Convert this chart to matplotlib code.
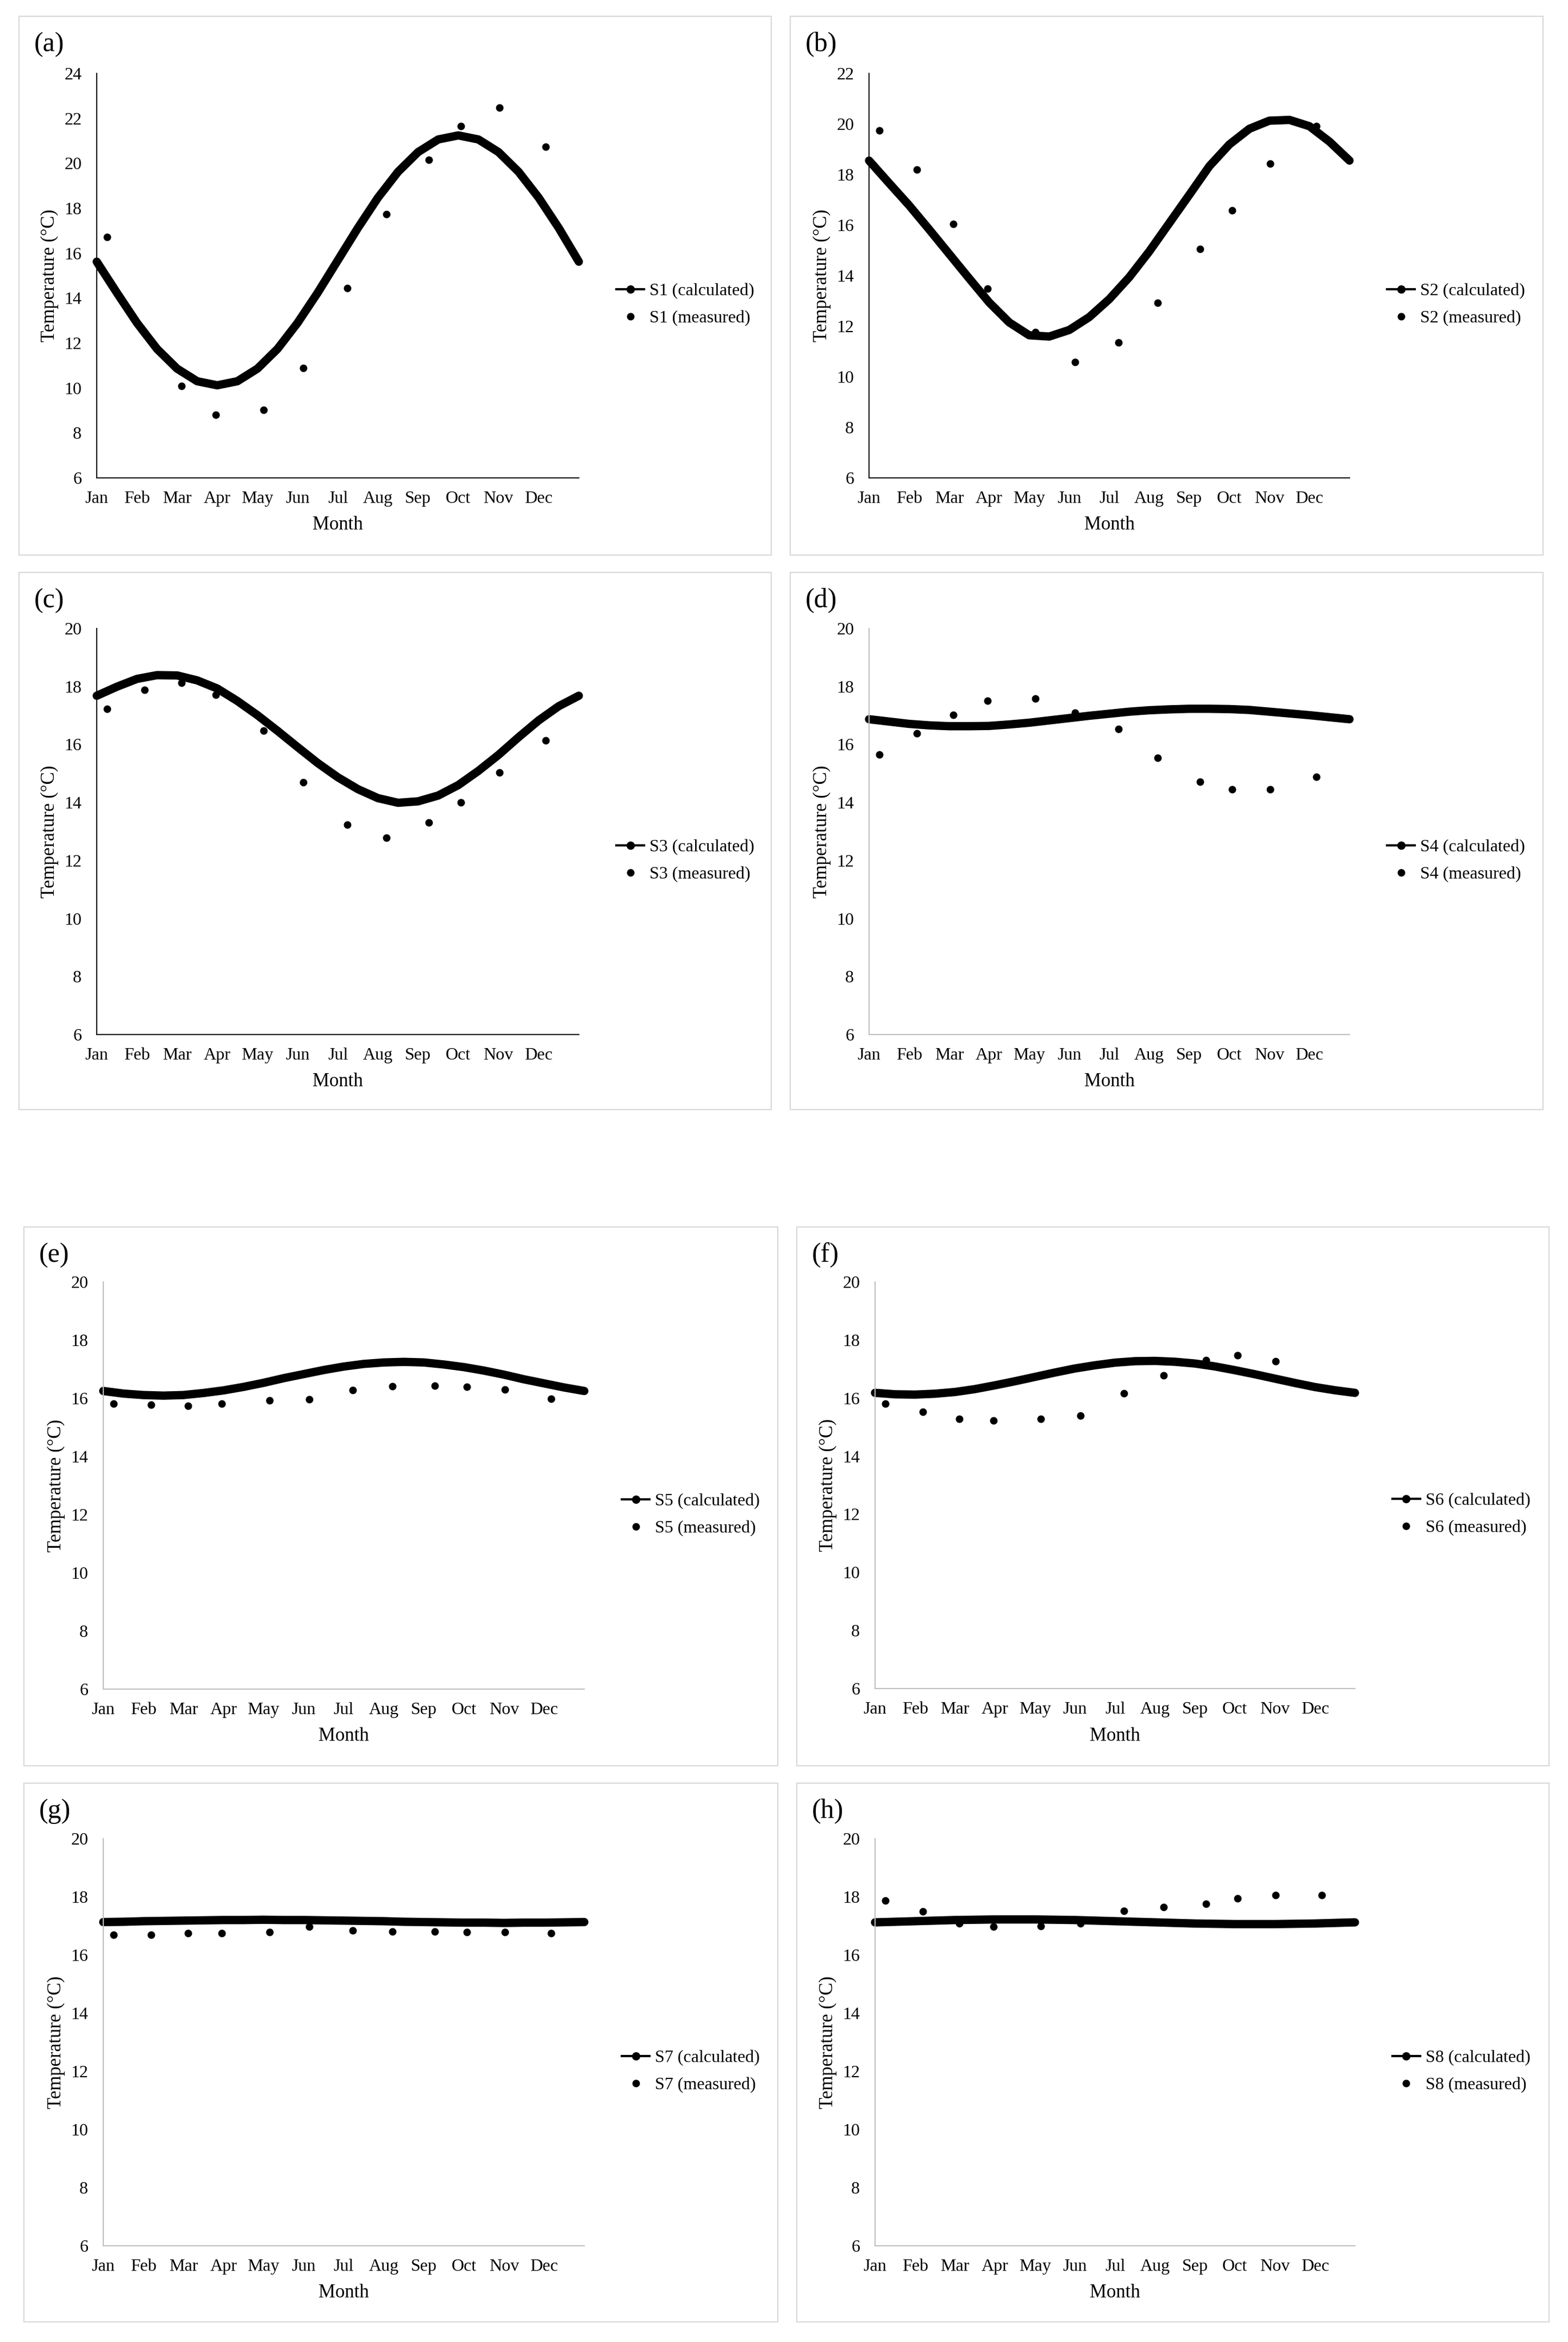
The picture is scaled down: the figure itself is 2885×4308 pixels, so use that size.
import matplotlib
matplotlib.use('Agg')
import matplotlib.pyplot as plt
from matplotlib.lines import Line2D
from matplotlib.patches import Rectangle

# ---------------- data ----------------
months = ['Jan', 'Feb', 'Mar', 'Apr', 'May', 'Jun', 'Jul', 'Aug', 'Sep', 'Oct', 'Nov', 'Dec']
month_pos = [0, 1, 2, 3, 4, 5, 6, 7, 8, 9, 10, 11]

# time axis (in months from 1 Jan) of the calculated curves and of the measurements
calc_x = [0.0, 0.5, 1.0, 1.5, 2.0, 2.5, 3.0, 3.5, 4.0, 4.5, 5.0, 5.5, 6.0,
          6.5, 7.0, 7.5, 8.0, 8.5, 9.0, 9.5, 10.0, 10.5, 11.0, 11.5, 12.0]
meas_x = [0.26, 1.19, 2.11, 2.96, 4.15, 5.14, 6.23, 7.21, 8.27, 9.07, 10.02, 11.17]

s1_calc = [15.62, 14.24, 12.90, 11.74, 10.86, 10.30, 10.12, 10.30, 10.86, 11.74, 12.90, 14.24, 15.68,
           17.12, 18.47, 19.62, 20.50, 21.06, 21.24, 21.06, 20.50, 19.62, 18.47, 17.12, 15.62]
s1_meas = [16.72, 12.45, 10.08, 8.80, 9.03, 10.88, 14.45, 17.74, 20.15, 21.66, 22.47, 20.74]

s2_calc = [18.55, 17.66, 16.78, 15.83, 14.86, 13.89, 12.94, 12.15, 11.64, 11.59, 11.85, 12.36, 13.07,
           13.94, 14.96, 16.08, 17.20, 18.33, 19.19, 19.81, 20.13, 20.16, 19.91, 19.30, 18.55]
s2_meas = [19.75, 18.19, 16.04, 13.48, 11.76, 10.59, 11.36, 12.92, 15.05, 16.58, 18.44, 19.92]

s3_calc = [17.68, 17.99, 18.26, 18.39, 18.38, 18.21, 17.93, 17.50, 17.01, 16.47, 15.91, 15.36, 14.87,
           14.46, 14.15, 13.99, 14.04, 14.24, 14.60, 15.09, 15.64, 16.25, 16.83, 17.32, 17.68]
s3_meas = [17.23, 17.88, 18.13, 17.72, 16.47, 14.69, 13.23, 12.79, 13.30, 14.00, 15.04, 16.14]

s4_calc = [16.87, 16.79, 16.71, 16.66, 16.63, 16.63, 16.64, 16.69, 16.75, 16.83, 16.91, 16.99, 17.06,
           17.13, 17.18, 17.21, 17.23, 17.23, 17.22, 17.19, 17.13, 17.07, 17.01, 16.94, 16.87]
s4_meas = [15.65, 16.39, 17.02, 17.51, 17.59, 17.10, 16.54, 15.54, 14.71, 14.46, 14.45, 14.88]

s5_calc = [16.25, 16.16, 16.11, 16.09, 16.11, 16.18, 16.27, 16.39, 16.53, 16.69, 16.83, 16.97, 17.09,
           17.18, 17.23, 17.25, 17.23, 17.16, 17.07, 16.95, 16.81, 16.65, 16.51, 16.37, 16.25]
s5_meas = [15.82, 15.78, 15.74, 15.82, 15.93, 15.97, 16.28, 16.42, 16.43, 16.40, 16.29, 15.99]

s6_calc = [16.18, 16.13, 16.12, 16.15, 16.21, 16.31, 16.44, 16.58, 16.73, 16.88, 17.02, 17.13, 17.22,
           17.27, 17.28, 17.25, 17.19, 17.09, 16.96, 16.82, 16.67, 16.52, 16.38, 16.27, 16.18]
s6_meas = [15.80, 15.53, 15.28, 15.23, 15.28, 15.40, 16.16, 16.78, 17.30, 17.48, 17.27, 16.35]

s7_calc = [17.13, 17.14, 17.16, 17.17, 17.18, 17.19, 17.20, 17.20, 17.21, 17.20, 17.20, 17.19, 17.18,
           17.17, 17.16, 17.14, 17.13, 17.12, 17.11, 17.11, 17.10, 17.11, 17.11, 17.12, 17.13]
s7_meas = [16.70, 16.69, 16.74, 16.74, 16.79, 16.98, 16.84, 16.81, 16.81, 16.79, 16.79, 16.75]

s8_calc = [17.12, 17.14, 17.16, 17.18, 17.20, 17.21, 17.22, 17.22, 17.22, 17.21, 17.20, 17.18, 17.16,
           17.14, 17.12, 17.10, 17.08, 17.07, 17.06, 17.06, 17.06, 17.07, 17.08, 17.10, 17.12]
s8_meas = [17.87, 17.50, 17.08, 16.97, 17.00, 17.08, 17.52, 17.65, 17.76, 17.95, 18.05, 18.06]

series_names = ['S1', 'S2', 'S3', 'S4', 'S5', 'S6', 'S7', 'S8']
panel_tags = ['(a)', '(b)', '(c)', '(d)', '(e)', '(f)', '(g)', '(h)']
y_max = [24, 22, 20, 20, 20, 20, 20, 20]
calc_series = [s1_calc, s2_calc, s3_calc, s4_calc, s5_calc, s6_calc, s7_calc, s8_calc]
meas_series = [s1_meas, s2_meas, s3_meas, s4_meas, s5_meas, s6_meas, s7_meas, s8_meas]

# ---------------- layout (pixels) ----------------
W, H = 2885, 4308
frames = [(35, 30, 1419, 1021), (1454, 30, 2839, 1021),
          (35, 1053, 1419, 2041), (1454, 1053, 2839, 2041),
          (44, 2257, 1431, 3248), (1466, 2257, 2850, 3248),
          (44, 3280, 1431, 4271), (1466, 3280, 2850, 4271)]
axes_px = [(178, 135, 1065, 879), (1599, 135, 2483, 879),
           (178, 1156, 1065, 1903), (1599, 1156, 2483, 1903),
           (190, 2358, 1075, 3107), (1610, 2358, 2493, 3106),
           (190, 3382, 1075, 4131), (1610, 3382, 2493, 4131)]
spine_cols = ['black', 'black', 'black', '#bfbfbf', '#bfbfbf', '#bfbfbf', '#bfbfbf', '#bfbfbf']

SERIF = ['Liberation Serif', 'DejaVu Serif']
plt.rcParams['font.family'] = SERIF
FS_TICK = 23
FS_LAB = 25
FS_LEG = 23
FS_TAG = 36

fig = plt.figure(figsize=(W / 100, H / 100), dpi=100)
fig.patch.set_facecolor('white')

for i in range(8):
    fx0, fy0, fx1, fy1 = frames[i]
    fig.add_artist(Rectangle((fx0 / W, 1 - fy1 / H), (fx1 - fx0) / W, (fy1 - fy0) / H,
                             transform=fig.transFigure, fill=False, ec='#d9d9d9', lw=1.6))
    fig.text((fx0 + 28) / W, 1 - (fy0 + 52) / H, panel_tags[i], fontsize=FS_TAG,
             ha='left', va='center')

    ax0, ay0, ax1, ay1 = axes_px[i]
    aw, ah = ax1 - ax0, ay1 - ay0
    ax = fig.add_axes([ax0 / W, 1 - ay1 / H, aw / W, ah / H])

    ax.plot(calc_x, calc_series[i], color='black', lw=11, solid_capstyle='round',
            solid_joinstyle='round', zorder=2, clip_on=False)
    ax.plot(meas_x, meas_series[i], 'o', color='black', ms=9, zorder=3, clip_on=False)

    ax.set_xlim(0, 12)
    ax.set_ylim(6, y_max[i])
    ax.set_xticks(month_pos)
    ax.set_xticklabels(months)
    ax.set_yticks(list(range(6, y_max[i] + 1, 2)))
    ax.tick_params(axis='both', length=0, labelsize=FS_TICK)
    ax.tick_params(axis='y', pad=20)
    ax.tick_params(axis='x', pad=17)
    for s in ['top', 'right']:
        ax.spines[s].set_visible(False)
    for s in ['left', 'bottom']:
        ax.spines[s].set_color(spine_cols[i])
        ax.spines[s].set_linewidth(1.5)

    ax.text(0.5, -87 / ah, 'Month', transform=ax.transAxes, ha='center', va='center',
            fontsize=FS_LAB)
    ax.text(-87 / aw, 0.5, 'Temperature (°C)', transform=ax.transAxes, ha='center',
            va='center', rotation=90, fontsize=FS_LAB)

    handles = [Line2D([], [], color='black', lw=3, marker='o', ms=10),
               Line2D([], [], color='black', ls='none', marker='o', ms=9)]
    ax.legend(handles, [series_names[i] + ' (calculated)', series_names[i] + ' (measured)'],
              loc='center left', bbox_to_anchor=(1.078, 0.428), frameon=False,
              fontsize=FS_LEG, borderpad=0, borderaxespad=0, handlelength=1.6,
              handletextpad=0.3, labelspacing=0.65)

fig.savefig('out.png', dpi=100, facecolor='white')
